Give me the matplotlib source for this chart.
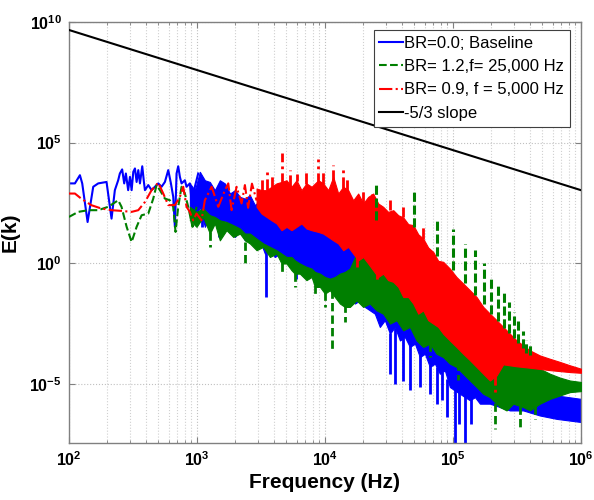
import numpy as np
import matplotlib
matplotlib.use("Agg")
import matplotlib.pyplot as plt
from matplotlib.lines import Line2D
from matplotlib.ticker import FixedLocator, LogLocator, NullFormatter

plt.rcParams['font.family'] = ['Liberation Sans', 'DejaVu Sans']
plt.rcParams['mathtext.fontset'] = 'custom'
plt.rcParams['mathtext.rm'] = 'Liberation Sans:bold'
plt.rcParams['mathtext.it'] = 'Liberation Sans:bold'
plt.rcParams['mathtext.bf'] = 'Liberation Sans:bold'

# ---- values: log10(frequency in Hz) and log10(E) ----
# low-frequency sparse traces
blue_lf = [2.000, 2.047, 2.086, 2.104, 2.146, 2.190, 2.229, 2.294, 2.333, 2.359, 2.385, 2.398, 2.416, 2.432,
           2.445, 2.463, 2.477, 2.490, 2.503, 2.516, 2.529, 2.542, 2.555, 2.573, 2.586, 2.594, 2.620, 2.646,
           2.672, 2.698, 2.724, 2.750, 2.776, 2.797, 2.815, 2.828, 2.841, 2.854, 2.867, 2.880, 2.906, 2.919,
           2.945, 2.971, 2.984, 3.010]
blue_le = [3.31, 3.31, 3.65, 3.31, 1.71, 3.17, 3.31, 3.37, 1.85, 3.03, 3.44, 3.72, 3.89, 3.31,
           3.72, 3.03, 3.58, 3.03, 3.79, 3.93, 3.37, 3.86, 3.31, 4.02, 3.37, 3.03, 3.24, 3.03,
           3.17, 3.31, 3.17, 3.37, 3.86, 3.31, 2.75, 1.51, 3.72, 4.02, 3.58, 3.31, 3.44, 3.17,
           3.31, 1.92, 3.17, 3.72]

green_lf = [2.000, 2.073, 2.151, 2.229, 2.307, 2.385, 2.411, 2.451, 2.490, 2.529, 2.568, 2.620, 2.659, 2.685,
            2.711, 2.750, 2.789, 2.815, 2.833, 2.854, 2.880, 2.906, 2.932, 2.966, 2.997]
green_le = [1.92, 2.13, 2.20, 2.20, 2.34, 2.61, 2.34, 1.51, 0.88, 1.51, 1.99, 2.06, 2.68, 3.24,
            3.03, 2.68, 2.61, 2.34, 1.30, 2.34, 3.17, 2.89, 2.34, 1.51, 2.34]

red_lf = [2.000, 2.047, 2.096, 2.174, 2.253, 2.333, 2.411, 2.490, 2.542, 2.594, 2.646, 2.698, 2.737, 2.776,
          2.828, 2.867, 2.893, 2.919, 2.945, 2.971, 2.997, 3.036, 3.062, 3.115, 3.167, 3.219, 3.245, 3.271,
          3.310, 3.349, 3.375, 3.400, 3.430, 3.466]
red_le = [2.89, 2.89, 2.68, 2.41, 2.27, 2.20, 2.17, 2.13, 2.20, 2.54, 3.03, 3.34, 2.89, 2.41,
          2.41, 2.75, 3.17, 2.34, 2.13, 1.78, 2.06, 1.78, 2.61, 3.17, 2.34, 3.03, 3.31, 2.20,
          3.17, 2.48, 3.24, 2.30, 3.30, 2.60]

# dense parts: jagged upper / lower envelopes
blue_band_lf = [2.945, 2.984, 3.023, 3.062, 3.101, 3.140, 3.179, 3.218, 3.258, 3.297, 3.336, 3.375, 3.414,
                3.453, 3.492, 3.531, 3.570, 3.609, 3.648, 3.687, 3.726, 3.765, 3.804, 3.843, 3.883, 3.922,
                3.961, 4.000, 4.039, 4.078, 4.117, 4.156, 4.195, 4.234, 4.273, 4.312, 4.351, 4.390, 4.429,
                4.468, 4.508, 4.547, 4.586, 4.625, 4.664, 4.703, 4.742, 4.781, 4.820, 4.859, 4.898, 4.937,
                4.976, 5.054, 5.133, 5.172, 5.211, 5.289, 5.367, 5.445, 5.549, 5.679, 5.810, 6.000]
blue_band_hi = [3.31, 3.03, 3.79, 3.44, 3.37, 3.03, 3.44, 3.31, 2.89, 3.03, 2.75, 2.68, 2.82,
                2.41, 2.61, 2.34, 2.48, 2.20, 2.34, 1.92, 1.99, 1.92, 1.85, 1.71, 1.65, 1.71,
                1.78, 1.58, 1.51, 1.30, 1.09, 0.89, 0.68, 0.40, 0.12, -0.15, -0.43, -0.57, -0.70,
                -0.84, -0.98, -1.12, -1.26, -1.33, -1.40, -1.54, -1.67, -1.81, -2.09, -2.36, -2.64, -2.92,
                -3.20, -3.89, -4.30, -4.44, -4.58, -4.86, -5.06, -5.20, -5.27, -5.38, -5.48, -5.62]
blue_band_lo = [2.20, 1.78, 2.34, 1.51, 1.92, 1.65, 1.37, 1.78, 1.51, 1.09, 1.37, 0.95, 1.23,
                0.82, 0.95, 0.40, 0.54, 0.26, 0.40, 0.12, 0.26, -0.15, -0.01, -0.29, -0.15, -0.57,
                -0.43, -0.84, -0.70, -1.12, -0.98, -1.40, -1.26, -1.67, -1.54, -1.81, -1.95, -2.09, -2.64,
                -2.36, -2.92, -2.64, -3.20, -3.06, -3.47, -3.33, -3.89, -3.75, -4.30, -4.16, -4.58, -4.44,
                -5.13, -5.41, -5.68, -5.55, -5.82, -5.82, -5.96, -6.10, -6.10, -6.31, -6.45, -6.58]

green_band_lf = [2.945, 2.997, 3.049, 3.101, 3.140, 3.179, 3.231, 3.284, 3.336, 3.375, 3.414, 3.466, 3.518,
                 3.570, 3.622, 3.661, 3.700, 3.739, 3.765, 3.804, 3.856, 3.896, 3.922, 3.961, 4.000, 4.039,
                 4.078, 4.117, 4.156, 4.195, 4.247, 4.299, 4.351, 4.403, 4.455, 4.508, 4.560, 4.612, 4.664,
                 4.716, 4.768, 4.820, 4.872, 4.924, 4.976, 5.028, 5.080, 5.133, 5.185, 5.237, 5.289, 5.367,
                 5.419, 5.471, 5.549, 5.601, 5.679, 5.758, 5.836, 5.914, 6.000]
green_band_hi = [2.34, 2.13, 2.27, 1.99, 1.92, 1.78, 1.71, 1.58, 1.44, 1.23, 1.23, 1.02, 0.82,
                 0.68, 0.54, 0.40, 0.26, 0.26, 0.12, -0.01, -0.15, -0.22, -0.36, -0.43, -0.57, -0.64,
                 -0.57, -0.43, -0.36, -0.22, 0.40, 0.26, 0.95, 1.65, 1.51, 0.95, 0.68, 0.40, 0.12,
                 -0.15, -0.43, -0.70, -0.98, -1.26, -1.54, -1.81, -2.09, -2.36, -2.78, -3.20, -3.61, -3.89,
                 -3.96, -4.02, -4.09, -4.16, -4.37, -4.58, -4.74, -4.86, -4.92]
green_band_lo = [1.78, 1.51, 1.92, 1.23, 1.65, 0.95, 1.37, 1.09, 1.23, 0.95, 0.82, 0.54, 0.68,
                 0.26, 0.40, -0.01, -0.01, -0.29, -0.43, -0.43, -0.70, -0.57, -0.98, -0.98, -1.26, -1.12,
                 -1.40, -1.67, -1.81, -1.81, -1.54, -1.81, -1.67, -1.95, -2.09, -2.50, -2.36, -2.78, -2.64,
                 -3.20, -3.47, -3.33, -3.75, -3.89, -4.16, -4.30, -4.58, -4.86, -5.13, -5.41, -5.55, -5.96,
                 -6.10, -5.82, -5.96, -6.10, -5.82, -5.62, -5.48, -5.34, -5.30]

red_band_lf = [3.466, 3.505, 3.544, 3.583, 3.622, 3.661, 3.700, 3.739, 3.778, 3.817, 3.856, 3.896, 3.948,
               3.987, 4.026, 4.065, 4.104, 4.143, 4.182, 4.221, 4.260, 4.299, 4.338, 4.377, 4.416, 4.455,
               4.494, 4.534, 4.573, 4.612, 4.651, 4.690, 4.729, 4.768, 4.807, 4.846, 4.885, 4.924, 4.976,
               5.028, 5.080, 5.133, 5.185, 5.237, 5.289, 5.341, 5.393, 5.445, 5.497, 5.549, 5.601, 5.679,
               5.758, 5.836, 5.914, 6.000]
red_band_hi = [3.10, 3.03, 3.03, 3.17, 3.31, 3.37, 3.44, 3.17, 3.44, 3.03, 3.31, 3.17, 3.44,
               3.31, 3.03, 3.58, 2.89, 3.17, 3.03, 2.61, 2.89, 2.48, 2.75, 2.89, 2.48, 2.34,
               2.13, 2.20, 1.99, 1.90, 1.62, 1.58, 1.20, 1.02, 0.65, 0.47, 0.10, 0.06, -0.22,
               -0.57, -0.84, -1.12, -1.40, -1.81, -2.09, -2.36, -2.64, -2.92, -3.20, -3.40, -3.61, -3.82,
               -3.96, -4.09, -4.23, -4.37]
red_band_lo = [2.34, 2.06, 1.92, 1.78, 1.65, 1.37, 1.51, 1.37, 1.51, 1.65, 1.44, 1.37, 1.30,
               1.23, 1.09, 0.95, 0.82, 0.54, 0.68, 0.40, 0.12, 0.26, -0.01, -0.29, -0.57, -0.43,
               -0.70, -0.77, -0.98, -1.40, -1.40, -1.67, -2.09, -1.95, -2.36, -2.50, -2.64, -2.92, -3.20,
               -3.47, -3.75, -4.02, -4.30, -4.58, -4.86, -4.65, -4.19, -4.23, -4.27, -4.30, -4.33, -4.38,
               -4.43, -4.47, -4.51, -4.54]

# isolated narrow spikes: position, tip, base
blue_spk_lf = [3.040, 3.170, 3.539, 3.773, 4.508, 4.547, 4.612, 4.664, 4.742, 4.820, 4.872, 4.911, 4.955,
               5.015, 5.049, 5.093, 5.145]
blue_spk_tip = [1.50, 1.10, -1.40, -0.64, -4.58, -4.99, -4.86, -5.27, -5.13, -5.41, -5.82, -5.68, -6.38,
                -7.45, -6.65, -7.45, -6.65]
blue_spk_base = [2.20, 1.60, 0.45, -0.10, -2.90, -2.70, -3.10, -3.40, -3.80, -4.20, -4.30, -4.50, -4.80,
                 -5.20, -5.30, -5.40, -5.60]

green_spk_lf = [3.101, 3.179, 3.375, 3.661, 3.765, 3.922, 4.000, 4.052, 4.156, 4.820, 5.040, 5.328, 5.523, 5.640]
green_spk_tip = [0.68, 0.95, -0.01, -0.43, -0.98, -1.40, -1.81, -3.61, -2.43, -3.90, -4.85, -6.86, -6.93, -6.45]
green_spk_base = [1.30, 1.40, 0.90, 0.00, -0.40, -0.90, -1.20, -1.10, -1.70, -3.30, -4.10, -5.80, -5.90, -5.90]

green_comb_lf = [4.398, 4.699, 4.875, 5.000, 5.097, 5.176, 5.243, 5.301, 5.352, 5.398, 5.439, 5.477, 5.512, 5.544, 5.574, 5.602]
green_comb_tip = [3.31, 3.03, 1.78, 1.40, 0.80, 0.55, 0.00, -0.55, -0.80, -1.20, -1.60, -2.00, -2.40, -2.80, -3.20, -3.40]
green_comb_base = [1.80, 1.50, 0.30, -0.30, -0.80, -1.30, -1.70, -2.10, -2.40, -2.70, -2.90, -3.10, -3.30, -3.50, -3.70, -3.80]

red_spk_lf = [3.505, 3.544, 3.583, 3.661, 3.726, 3.778, 3.856, 3.948, 3.987, 4.065, 4.143, 4.169, 4.299,
              4.364, 4.508, 4.612, 4.768, 4.247, 4.403, 5.328]
red_spk_tip = [3.58, 3.79, 3.72, 4.55, 3.86, 3.72, 3.79, 4.34, 3.86, 4.07, 3.93, 3.58, 3.03,
               2.89, 2.61, 2.34, 1.51, -0.15, -0.70, -5.48]
red_spk_base = [3.00, 3.05, 3.10, 3.30, 3.20, 3.40, 3.30, 3.30, 3.30, 3.40, 3.10, 3.00, 2.50,
                2.70, 2.20, 1.90, 1.00, 0.30, -0.20, -4.60]

slope_lf = [2.0, 6.0]
slope_le = [9.67, 3.03]

labels = ['BR=0.0; Baseline', 'BR= 1.2,f= 25,000 Hz', 'BR= 0.9, f = 5,000 Hz', '-5/3 slope']
colors = ['#0000ff', '#007f00', '#ff0000', '#000000']
styles = ['-', '--', '-.', '-']


def p(v):
    return 10.0 ** np.asarray(v, dtype=float)


fig = plt.figure(figsize=(5.94, 5.0), dpi=100)
ax = fig.add_axes([0.116, 0.114, 0.862, 0.842])
ax.set_xscale('log')
ax.set_yscale('log')

lw = 1.5
# baseline (blue)
ax.plot(p(blue_lf), p(blue_le), color=colors[0], ls=styles[0], lw=lw, zorder=2)
ax.fill_between(p(blue_band_lf), p(blue_band_lo), p(blue_band_hi), color=colors[0], lw=0.8,
                edgecolor=colors[0], zorder=2)
ax.vlines(p(blue_spk_lf), p(blue_spk_base), p(blue_spk_tip), color=colors[0], lw=2.0, zorder=2)
# 25 kHz forcing (green)
ax.plot(p(green_lf), p(green_le), color=colors[1], ls=styles[1], lw=lw, zorder=3)
ax.fill_between(p(green_band_lf), p(green_band_lo), p(green_band_hi), color=colors[1], lw=0.8,
                edgecolor=colors[1], zorder=3)
ax.vlines(p(green_spk_lf), p(green_spk_base), p(green_spk_tip), color=colors[1], lw=2.0, ls=(0, (3, 1.5)), zorder=3)
# 5 kHz forcing (red)
ax.plot(p(red_lf), p(red_le), color=colors[2], ls=styles[2], lw=lw, zorder=4)
ax.fill_between(p(red_band_lf), p(red_band_lo), p(red_band_hi), color=colors[2], lw=0.8,
                edgecolor=colors[2], zorder=4)
ax.vlines(p(red_spk_lf), p(red_spk_base), p(red_spk_tip), color=colors[2], lw=2.0, ls=(0, (4, 1.5, 1, 1.5)), zorder=4)
# harmonic comb of the 25 kHz case, visible above the red spectrum
ax.vlines(p(green_comb_lf), p(green_comb_base), p(green_comb_tip), color=colors[1], lw=2.2, ls=(0, (3, 1.2)), zorder=5)
# -5/3 reference slope
ax.plot(p(slope_lf), p(slope_le), color='k', lw=1.5, zorder=6)

ax.set_xlim(1e2, 1e6)
ax.set_ylim(10 ** -7.45, 1e10)

xt = [1e2, 1e3, 1e4, 1e5, 1e6]
ax.xaxis.set_major_locator(FixedLocator(xt))
ax.set_xticklabels([r'$10^{%d}$' % k for k in range(2, 7)])
ax.xaxis.set_minor_locator(LogLocator(base=10, subs=np.arange(2, 10)))
ax.xaxis.set_minor_formatter(NullFormatter())
yt = [1e-5, 1e0, 1e5, 1e10]
ax.yaxis.set_major_locator(FixedLocator(yt))
ax.set_yticklabels([r'$10^{%d}$' % k for k in (-5, 0, 5, 10)])
ax.yaxis.set_minor_locator(FixedLocator([]))

ax.tick_params(axis='both', which='both', direction='in', top=True, right=True, color='#808080')
ax.tick_params(axis='both', which='major', labelsize=11.5, length=4, pad=5)
ax.tick_params(axis='both', which='minor', length=2)
ax.grid(True, which='major', ls=':', color='#c0c0c0', lw=0.8)
ax.grid(True, which='minor', axis='x', ls=':', color='#d0d0d0', lw=0.8)
ax.set_axisbelow(True)
for s in ax.spines.values():
    s.set_color('#808080')
    s.set_linewidth(1.0)

ax.set_xlabel('Frequency (Hz)', fontsize=15, fontweight='bold', labelpad=3)
ax.set_ylabel('E(k)', fontsize=15, fontweight='bold', labelpad=7)

handles = [Line2D([], [], color=c, ls=s, lw=1.5) for c, s in zip(colors, styles)]
leg = ax.legend(handles, labels, loc='upper right', bbox_to_anchor=(0.979, 0.981), borderaxespad=0,
                fontsize=12, handlelength=1.4, handletextpad=0.1, labelspacing=0.5,
                fancybox=False, framealpha=1, edgecolor='#404040', borderpad=0.35)
leg.get_frame().set_linewidth(0.8)
leg.set_zorder(10)

fig.savefig('out.png', dpi=100)
